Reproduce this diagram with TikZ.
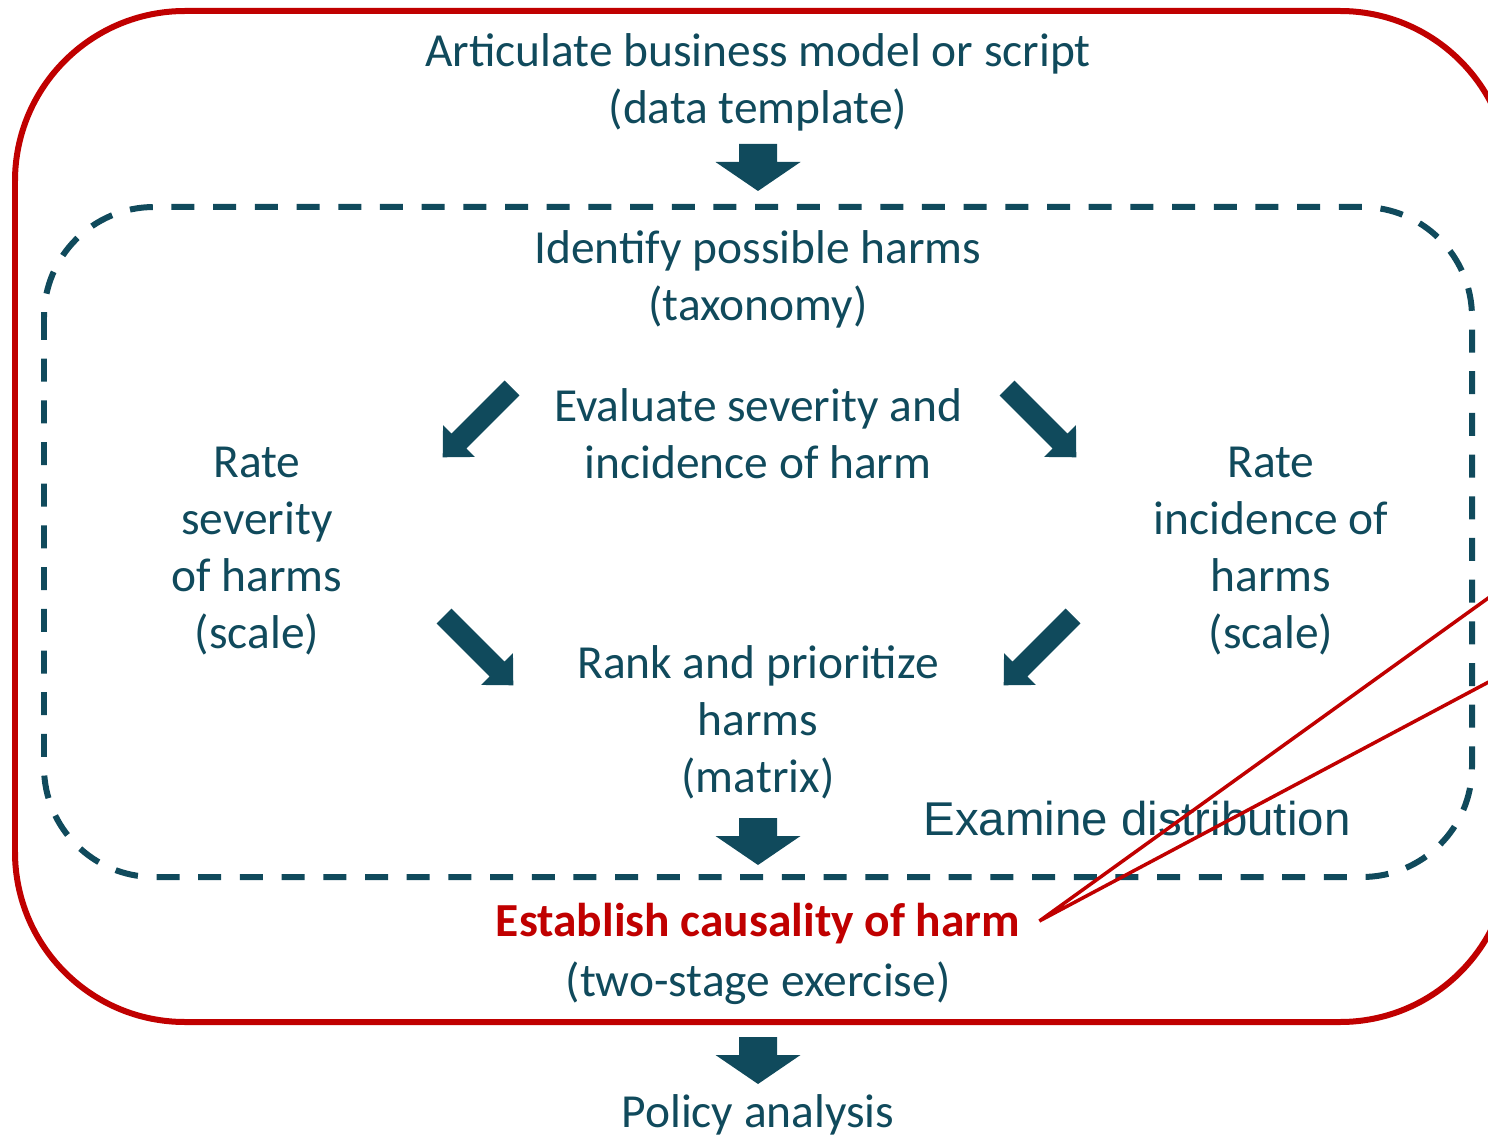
\documentclass[tikz,border=0pt]{standalone}
\usepackage{fontspec}
\setmainfont{Carlito}
\newfontfamily\arialfont{Liberation Sans}
\usepackage{tikz}
\usetikzlibrary{calc, positioning}
\definecolor{harmblue}{RGB}{16,74,92}
\definecolor{harmred}{RGB}{192,0,0}
\def\bigtext{\fontsize{27}{32.5}\selectfont}
\tikzstyle{step text}=[text=harmblue, font=\bigtext, align=center, inner sep=0pt]
\tikzstyle{key text}=[step text, text=harmred, font=\bigtext\bfseries]
\tikzstyle{red frame}=[draw=harmred, line width=0.12cm, rounded corners=3.4cm]
\tikzstyle{dash frame}=[draw=harmblue, line width=0.12cm, dash pattern=on 0.46cm off 0.374cm, rounded corners=2.2cm]
\tikzstyle{callout line}=[draw=harmred, line width=0.07cm]
% block arrow along +x: length, shaft width, head width, head length
\tikzset{pics/block arrow/.style n args={4}{code={
  \fill[harmblue] (0,-#2/2) -- (#1-#4,-#2/2) -- (#1-#4,-#3/2) -- (#1,0)
    -- (#1-#4,#3/2) -- (#1-#4,#2/2) -- (0,#2/2) -- cycle;}}}

\begin{document}
\begin{tikzpicture}[x=0.02cm, y=-0.02cm]
		\useasboundingbox (0,0) rectangle (1488,1135);
		\clip (0,0) rectangle (1488,1135);

		% Draw the frames
		\draw[red frame] (15,11) rectangle (1510,1022);
		\draw[dash frame] (44,207) rectangle (1472,877);

		% Draw the steps
		\node[step text] (model) at (758,82) {Articulate business model or script\\(data template)};
		\node[step text] (identify) at (758,279) {Identify possible harms\\(taxonomy)};
		\node[step text] (evaluate) at (758,434) {Evaluate severity and\\incidence of harm};
		\node[step text] (severity) at (257,551) {Rate\\severity\\of harms\\(scale)};
		\node[step text] (incidence) at (1271,551) {Rate\\incidence of\\harms\\(scale)};
		\node[step text] (rank) at (758,722) {Rank and prioritize\\harms\\(matrix)};
		\node[step text, font=\arialfont\bigtext] (distribution) at (1137,819) {Examine distribution};
		\node[key text] (cause) at (758,924) {Establish causality of harm};
		\node[step text] (exercise) at (758,983) {(two-stage exercise)};
		\node[step text] (policy) at (758,1115) {Policy analysis};

		% Draw the block arrows
		\foreach \y in {144,818,1037}
		\pic[rotate=-90] at (758,\y) {block arrow={47}{38}{85}{29}};
		\pic[rotate=-135] at (512,388) {block arrow={98}{21}{45}{23}};
		\pic[rotate=-45] at (1007,388) {block arrow={98}{21}{45}{23}};
		\pic[rotate=-45] at (444,616) {block arrow={98}{21}{45}{23}};
		\pic[rotate=-135] at (1073,616) {block arrow={98}{21}{45}{23}};

		% Callout from causality
		\coordinate (callout tip) at ($(cause.east)+(19,-3)$);
		\coordinate (callout a) at (1530,568);
		\coordinate (callout b) at (1530,660);
		\draw[callout line] (callout a) -- (callout tip) -- (callout b);
	\end{tikzpicture}
\end{document}
